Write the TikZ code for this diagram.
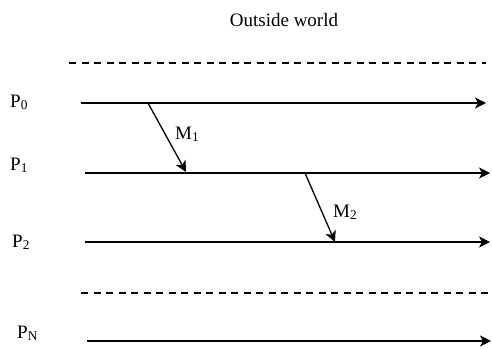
\documentclass[tikz,border=0pt]{standalone}
\usepackage{fontspec}
\setmainfont{Liberation Serif}
\usetikzlibrary{arrows.meta}
\begin{document}
\begin{tikzpicture}[x=1pt,y=-1pt,
  lbl/.style={inner sep=0pt,font=\fontsize{19}{22}\selectfont},
  tline/.style={line width=1.3pt,-{Stealth[length=11pt,width=11pt,inset=3pt]}},
  sepline/.style={line width=1.3pt,dash pattern=on 7pt off 5.5pt}]
\useasboundingbox (0,0) rectangle (492,348);
% labels
\node[lbl,anchor=base] (ow) at (284,26) {Outside world};
\node[lbl,anchor=base west] (p0) at (10,107) {P\textsubscript{0}};
\node[lbl,anchor=base west] (p1) at (10,170) {P\textsubscript{1}};
\node[lbl,anchor=base west] (p2) at (12,247) {P\textsubscript{2}};
\node[lbl,anchor=base west] (pn) at (17,338) {P\textsubscript{N}};
\node[lbl,anchor=base west] (m1) at (175,139) {M\textsubscript{1}};
\node[lbl,anchor=base west] (m2) at (333,217) {M\textsubscript{2}};
% coordinates
\coordinate (d1a) at (69,63);  \coordinate (d1b) at (486,63);
\coordinate (d2a) at (81,293); \coordinate (d2b) at (492,293);
\coordinate (l0a) at (81,103); \coordinate (l0b) at (486,103);
\coordinate (l1a) at (85,173); \coordinate (l1b) at (490,173);
\coordinate (l2a) at (85,242); \coordinate (l2b) at (490,242);
\coordinate (lna) at (87,341); \coordinate (lnb) at (491,341);
\coordinate (m1a) at (148,103); \coordinate (m1b) at (186,172);
\coordinate (m2a) at (305,173); \coordinate (m2b) at (335,242);
% lines
\draw[sepline] (d1a) -- (d1b);
\draw[sepline] (d2a) -- (d2b);
\draw[tline] (l0a) -- (l0b);
\draw[tline] (l1a) -- (l1b);
\draw[tline] (l2a) -- (l2b);
\draw[tline] (lna) -- (lnb);
\draw[tline] (m1a) -- (m1b);
\draw[tline] (m2a) -- (m2b);
\end{tikzpicture}
\end{document}
